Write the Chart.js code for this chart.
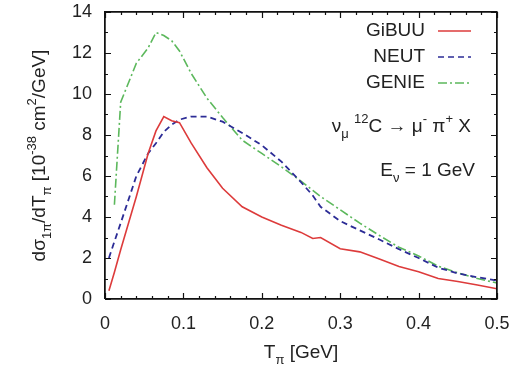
<!DOCTYPE html>
<html>
<head>
<meta charset="utf-8">
<script src="https://cdn.jsdelivr.net/npm/chart.js@4.4.1/dist/chart.umd.min.js"></script>
<style>
  html, body { margin: 0; padding: 0; background: #fff; }
  #wrap { position: relative; width: 515px; height: 373px; }
  #box { position: absolute; left: 104px; top: 11px; width: 391px; height: 286px;
         border: 1.5px solid #111; pointer-events: none; }
</style>
</head>
<body>
<div id="wrap"><canvas id="chart" width="515" height="373"></canvas><div id="box"></div></div>
<script>
// Pion kinetic energy grid [GeV]
const tValues = [0.005, 0.012, 0.02, 0.04, 0.055, 0.065, 0.075, 0.085, 0.095, 0.11, 0.13, 0.15, 0.175,
  0.2, 0.225, 0.25, 0.265, 0.275, 0.3, 0.325, 0.35, 0.375, 0.4, 0.425, 0.45, 0.475, 0.5];

// dσ/dT [10^-38 cm^2/GeV]
const gibuu = [0.4, 1.3, 2.4, 5.0, 7.1, 8.2, 8.9, 8.7, 8.6, 7.6, 6.4, 5.4, 4.5,
  4.0, 3.6, 3.25, 2.95, 3.0, 2.45, 2.3, 1.95, 1.58, 1.33, 1.0, 0.85, 0.68, 0.5];
const neut = [2.0, 2.8, 3.7, 6.0, 7.1, 7.6, 8.15, 8.5, 8.75, 8.9, 8.9, 8.65, 8.1,
  7.5, 6.7, 5.7, 5.05, 4.5, 3.8, 3.35, 2.9, 2.43, 2.0, 1.53, 1.25, 1.06, 0.9];
const genie = [null, 4.6, 9.6, 11.5, 12.25, 13.0, 12.85, 12.6, 12.1, 11.0, 9.8, 8.85, 7.75,
  7.1, 6.45, 5.75, 5.3, 5.0, 4.35, 3.7, 3.1, 2.52, 2.1, 1.6, 1.28, 1.0, 0.78];

const seriesNames = ['GiBUU', 'NEUT', 'GENIE'];
const xTicks = [0, 0.1, 0.2, 0.3, 0.4, 0.5];
const yTicks = [0, 2, 4, 6, 8, 10, 12, 14];
const xRange = [0, 0.5];
const yRange = [0, 14];

const FONT = '"Liberation Sans", Arial, Helvetica, sans-serif';
const INK = '#222';
const FRAME = '#111';

const toPoints = ys => tValues.map((t, i) => ({ x: t, y: ys[i] }));
// outline of the plot box, in data units
const framePoints = [
  { x: xRange[0], y: yRange[0] }, { x: xRange[1], y: yRange[0] }, { x: xRange[1], y: yRange[1] },
  { x: xRange[0], y: yRange[1] }, { x: xRange[0], y: yRange[0] }
];

// draw text made of normal / sub / sup pieces
function richWidth(ctx, parts, size) {
  let w = 0;
  parts.forEach(([txt, mode]) => {
    ctx.font = (mode === 'n' ? size : Math.round(size * 0.7)) + 'px ' + FONT;
    w += ctx.measureText(txt).width;
  });
  return w;
}
function drawRich(ctx, parts, x, y, size, align) {
  const w = richWidth(ctx, parts, size);
  let cx = align === 'right' ? x - w : align === 'center' ? x - w / 2 : x;
  ctx.textAlign = 'left';
  ctx.textBaseline = 'alphabetic';
  parts.forEach(([txt, mode]) => {
    const s = mode === 'n' ? size : Math.round(size * 0.7);
    ctx.font = s + 'px ' + FONT;
    const dy = mode === 'sub' ? size * 0.3 : mode === 'sup' ? -size * 0.45 : 0;
    ctx.fillText(txt, cx, y + dy);
    cx += ctx.measureText(txt).width;
  });
}

const noScalePad = s => { s.paddingTop = 0; s.paddingBottom = 0; s.paddingLeft = 0; s.paddingRight = 0; };

const framePlugin = {
  id: 'frame',
  afterDraw(chart) {
    const ctx = chart.ctx;
    const xs = chart.scales.x, ys = chart.scales.y;
    const L = xs.getPixelForValue(xRange[0]), R = xs.getPixelForValue(xRange[1]);
    const B = ys.getPixelForValue(yRange[0]), T = ys.getPixelForValue(yRange[1]);
    ctx.save();
    ctx.strokeStyle = FRAME;
    ctx.lineWidth = 1.2;
    ctx.beginPath();
    // inward ticks on all four sides, major + minor
    for (let i = 0; i <= 25; i++) {
      const px = Math.round(xs.getPixelForValue(i * 0.02)) + 0.5;
      const len = i % 5 === 0 ? 6 : 3;
      ctx.moveTo(px, B); ctx.lineTo(px, B - len);
      ctx.moveTo(px, T); ctx.lineTo(px, T + len);
    }
    for (let v = 0; v <= 14; v++) {
      const py = Math.round(ys.getPixelForValue(v)) + 0.5;
      const len = v % 2 === 0 ? 6 : 3;
      ctx.moveTo(L, py); ctx.lineTo(L + len, py);
      ctx.moveTo(R, py); ctx.lineTo(R - len, py);
    }
    ctx.stroke();

    // legend (text right-aligned, sample to the right)
    chart.data.datasets.filter(ds => seriesNames.includes(ds.label)).forEach((ds, i) => {
      const cy = 31 + i * 26;
      ctx.fillStyle = INK;
      ctx.font = '19px ' + FONT;
      ctx.textAlign = 'right';
      ctx.textBaseline = 'middle';
      ctx.fillText(ds.label, 425, cy);
      ctx.strokeStyle = ds.borderColor;
      ctx.lineWidth = 1.6;
      ctx.setLineDash(ds.borderDash || []);
      ctx.beginPath();
      ctx.moveTo(438, cy); ctx.lineTo(471, cy);
      ctx.stroke();
      ctx.setLineDash([]);
    });

    // reaction annotation
    ctx.fillStyle = INK;
    drawRich(ctx, [['ν', 'n'], ['μ', 'sub'], [' ', 'n'], ['12', 'sup'], ['C → μ', 'n'], ['-', 'sup'],
      [' π', 'n'], ['+', 'sup'], [' X', 'n']], 471, 132, 19, 'right');
    drawRich(ctx, [['E', 'n'], ['ν', 'sub'], [' = 1 GeV', 'n']], 475, 176, 19, 'right');

    // axis titles
    drawRich(ctx, [['T', 'n'], ['π', 'sub'], [' [GeV]', 'n']], (L + R) / 2, 358, 19, 'center');
    ctx.save();
    ctx.translate(45, (T + B) / 2);
    ctx.rotate(-Math.PI / 2);
    drawRich(ctx, [['dσ', 'n'], ['1π', 'sub'], ['/dT', 'n'], ['π', 'sub'], [' [10', 'n'], ['-38', 'sup'],
      [' cm', 'n'], ['2', 'sup'], ['/GeV]', 'n']], 0, 0, 19, 'center');
    ctx.restore();
    ctx.restore();
  }
};

new Chart(document.getElementById('chart'), {
  type: 'line',
  data: {
    datasets: [
      { label: seriesNames[0], data: toPoints(gibuu), borderColor: '#dd3b3b', borderWidth: 1.6 },
      { label: seriesNames[1], data: toPoints(neut), borderColor: '#2c2c96', borderWidth: 1.8, borderDash: [6, 4] },
      { label: seriesNames[2], data: toPoints(genie), borderColor: '#5cb85c', borderWidth: 1.6, borderDash: [9, 3, 2, 3] },
      { label: 'frame', data: framePoints, borderColor: FRAME, borderWidth: 1.5, clip: 4, order: -1 }
    ]
  },
  options: {
    responsive: false,
    animation: false,
    spanGaps: true,
    elements: { point: { radius: 0 }, line: { tension: 0, fill: false } },
    layout: { padding: { top: 12, right: 18, left: 0, bottom: 0 } },
    plugins: { legend: { display: false }, tooltip: { enabled: false } },
    scales: {
      x: {
        type: 'linear', min: xRange[0], max: xRange[1],
        afterFit: s => { s.height = 74; noScalePad(s); },
        afterBuildTicks: s => { s.ticks = xTicks.map(v => ({ value: v })); },
        grid: { display: false, drawTicks: false },
        border: { display: false },
        ticks: {
          padding: 14, color: INK, font: { family: FONT, size: 18 },
          maxRotation: 0, autoSkip: false,
          callback: v => String(Number(v.toFixed(1)))
        }
      },
      y: {
        type: 'linear', min: yRange[0], max: yRange[1],
        afterFit: s => { s.width = 105; noScalePad(s); },
        afterBuildTicks: s => { s.ticks = yTicks.map(v => ({ value: v })); },
        grid: { display: false, drawTicks: false },
        border: { display: false },
        ticks: { padding: 13, color: INK, font: { family: FONT, size: 18 } }
      }
    }
  },
  plugins: [framePlugin]
});
</script>
</body>
</html>
